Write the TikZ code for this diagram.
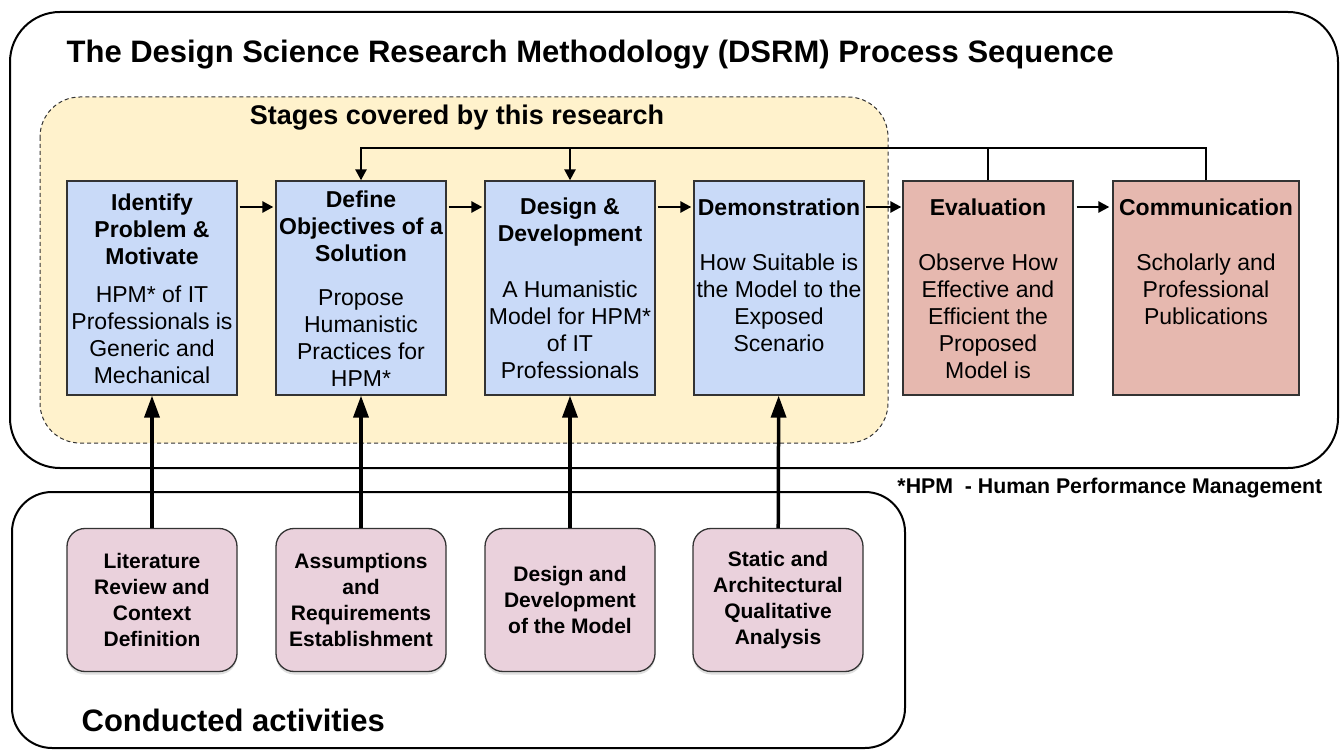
\documentclass[tikz,border=0pt]{standalone}
\usepackage{fontspec}
\setmainfont{Liberation Sans}
\usetikzlibrary{arrows.meta, positioning, shadows}
\definecolor{yellow1}{HTML}{FFF2CC}
\definecolor{blue1}{HTML}{C9DAF8}
\definecolor{red1}{HTML}{E6B8AF}
\definecolor{pink1}{HTML}{EAD1DC}
\definecolor{edge1}{HTML}{333333}

\begin{document}
\begin{tikzpicture}[x=1pt, y=-1pt, semithick,
    stage/.style={draw=edge1, line width=1.3pt, minimum width=170pt,
                  minimum height=214pt, inner sep=0pt},
    stagetitle/.style={align=center, font=\fontsize{23}{27}\selectfont\bfseries},
    stagetext/.style={align=center, font=\fontsize{23}{27}\selectfont},
    activity/.style={draw=edge1, line width=1.3pt, fill=pink1, rounded corners=18pt,
                     minimum width=170pt, minimum height=143pt, inner sep=0pt,
                     align=center, font=\fontsize{21}{26}\selectfont\bfseries,
                     drop shadow={shadow xshift=0pt, shadow yshift=-3pt, opacity=.25}},
    flow/.style={line width=2.5pt, -{Triangle[length=11pt, width=11pt]}},
    feed/.style={line width=2.5pt},
    input/.style={line width=3.5pt, -{Triangle[length=22pt, width=15pt]}}]
  \useasboundingbox (0,0) rectangle (1342,751);

  % frames
  \draw[line width=2pt, rounded corners=50pt] (10,12) rectangle (1338,468);
  \draw[line width=2pt, rounded corners=40pt] (12,492) rectangle (905,748);
  \draw[draw=edge1, line width=1pt, dash pattern=on 4pt off 3pt, fill=yellow1,
        rounded corners=40pt] (40,97) rectangle (888,443);

  \node[anchor=west, font=\fontsize{31}{35}\selectfont\bfseries] (title) at (63,55)
       {The Design Science Research Methodology (DSRM) Process Sequence};
  \node[font=\fontsize{27}{31}\selectfont\bfseries] (covered) at (457,118)
       {Stages covered by this research};
  \node[anchor=east, font=\fontsize{21.3}{24}\selectfont\bfseries] (note) at (1326,488)
       {*HPM\ \ - Human Performance Management};
  \node[anchor=west, font=\fontsize{31}{35}\selectfont\bfseries] (conducted) at (78,720)
       {Conducted activities};

  % DSRM stages
  \node[stage, fill=blue1] (ident)  at (152,288) {};
  \node[stage, fill=blue1] (define) at (361,288) {};
  \node[stage, fill=blue1] (design) at (570,288) {};
  \node[stage, fill=blue1] (demo)   at (779,288) {};
  \node[stage, fill=red1]  (eval)   at (988,288) {};
  \node[stage, fill=red1, minimum width=186pt] (comm) at (1206,288) {};

  \node[stagetitle] (identT)  at (152,229) {Identify\\Problem \&\\Motivate};
  \node[stagetext]  (identB)  at (152,335) {HPM* of IT\\Professionals is\\Generic and\\Mechanical};
  \node[stagetitle] (defineT) at (361,226) {Define\\Objectives of a\\Solution};
  \node[stagetext]  (defineB) at (361,338) {Propose\\Humanistic\\Practices for\\HPM*};
  \node[stagetitle] (designT) at (570,222) {Design \&\\Development};
  \node[stagetext]  (designB) at (570,330) {A Humanistic\\Model for HPM*\\of IT\\Professionals};
  \node[stagetitle] (demoT)   at (779,207) {Demonstration};
  \node[stagetext]  (demoB)   at (779,303) {How Suitable is\\the Model to the\\Exposed\\Scenario};
  \node[stagetitle] (evalT)   at (988,207) {Evaluation};
  \node[stagetext]  (evalB)   at (988,316) {Observe How\\Effective and\\Efficient the\\Proposed\\Model is};
  \node[stagetitle] (commT)   at (1206,207) {Communication};
  \node[stagetext]  (commB)   at (1206,289) {Scholarly and\\Professional\\Publications};

  % activities
  \node[activity] (litrev)   at (152,600) {Literature\\Review and\\Context\\Definition};
  \node[activity] (assume)   at (361,600) {Assumptions\\and\\Requirements\\Establishment};
  \node[activity] (devmodel) at (570,600) {Design and\\Development\\of the Model};
  \node[activity] (analysis) at (778,600) {Static and\\Architectural\\Qualitative\\Analysis};

  % process flow
  \draw[flow, shorten <=2pt, shorten >=2pt] ([yshift=81pt]ident.east)  -- ([yshift=81pt]define.west);
  \draw[flow, shorten <=2pt, shorten >=2pt] ([yshift=81pt]define.east) -- ([yshift=81pt]design.west);
  \draw[flow, shorten <=2pt, shorten >=2pt] ([yshift=81pt]design.east) -- ([yshift=81pt]demo.west);
  \draw[flow, shorten <=1pt, shorten >=1pt] ([yshift=81pt]demo.east)   -- ([yshift=81pt]eval.west);
  \draw[flow, shorten <=3pt, shorten >=3pt] ([yshift=81pt]eval.east)   -- ([yshift=81pt]comm.west);

  % feedback
  \coordinate (fb) at (0,148);
  \draw[flow] (comm.north) -- (comm.north |- fb) -| (define.north);
  \draw[feed] (eval.north) -- (eval.north |- fb);
  \draw[flow] (design.north |- fb) -- (design.north);

  % inputs
  \draw[input] (litrev)   -- (ident);
  \draw[input] (assume)   -- (define);
  \draw[input] (devmodel) -- (design);
  \draw[input] (analysis) -- (demo);
\end{tikzpicture}
\end{document}
